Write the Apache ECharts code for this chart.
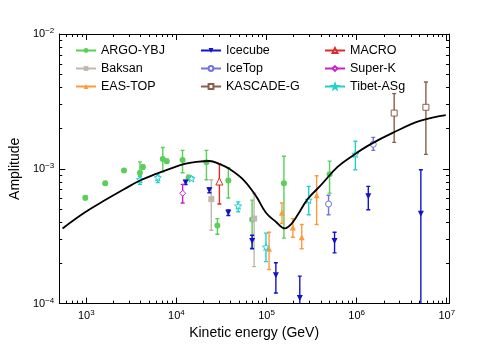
<!DOCTYPE html>
<html>
<head>
<meta charset="utf-8">
<script src="https://cdn.jsdelivr.net/npm/echarts@6/dist/echarts.min.js"></script>
<style>
  html, body { margin: 0; padding: 0; background: #fff; }
  #main { width: 478px; height: 345px; }
</style>
</head>
<body>
<div id="main"></div>
<script>
// ---- data (energy in GeV, amplitude) ----
var argoE = [975, 1620, 2620, 3940, 4250, 7060, 7820, 11700, 13650, 21550, 28500, 37700, 69200, 156000, 501000];
var argoA = [6.1e-4, 7.8e-4, 9.7e-4, 9.35e-4, 1.03e-3, 1.18e-3, 1.14e-3, 1.16e-3, 8.6e-4, 1.12e-3, 3.8e-4, 8.2e-4, 4.2e-4, 7.8e-4, 9.1e-4];
var argoHi = [6.3e-4, 8.05e-4, 1.0e-3, 1.125e-3, 1.07e-3, 1.44e-3, 1.18e-3, 1.37e-3, 8.95e-4, 1.37e-3, 4.27e-4, 1.02e-3, 5.86e-4, 1.24e-3, 1.14e-3];
var argoLo = [5.9e-4, 7.55e-4, 9.4e-4, 8.9e-4, 9.9e-4, 9.5e-4, 1.1e-3, 9.35e-4, 8.25e-4, 8.3e-4, 3.27e-4, 6.07e-4, 2.59e-4, 3.06e-4, 6.6e-4];

var baksanE = [24400, 72800];
var baksanA = [5.96e-4, 4.27e-4];
var baksanHi = [8.3e-4, 6.6e-4];
var baksanLo = [3.5e-4, 1.88e-4];

var easE = [106700, 148300, 196000, 246000, 360000];
var easA = [2.55e-4, 4.72e-4, 3.67e-4, 3.11e-4, 6.37e-4];
var easHi = [3.38e-4, 5.57e-4, 4.27e-4, 3.86e-4, 8.89e-4];
var easLo = [1.79e-4, 3.93e-4, 3.11e-4, 2.55e-4, 3.86e-4];

var icecubeE = [12650, 23200, 37700, 69200, 127000, 234000, 569000, 1347000, 5160000];
var icecubeA = [7.92e-4, 6.93e-4, 4.72e-4, 2.91e-4, 1.62e-4, 1.10e-4, 2.91e-4, 6.27e-4, 4.64e-4];
var icecubeHi = [8.2e-4, 7.2e-4, 4.95e-4, 3.21e-4, 2.01e-4, 1.6e-4, 3.38e-4, 7.41e-4, 9.84e-4];
var icecubeLo = [7.65e-4, 6.65e-4, 4.5e-4, 2.55e-4, 1.2e-4, 8e-5, 2.38e-4, 4.97e-4, 5e-5];

var icetopE = [488000, 1530000];
var icetopA = [5.48e-4, 1.52e-3];
var icetopHi = [6.37e-4, 1.71e-3];
var icetopLo = [4.56e-4, 1.37e-3];

var kascadeE = [2610000, 5870000];
var kascadeA = [2.59e-3, 2.86e-3];
var kascadeHi = [3.61e-3, 4.41e-3];
var kascadeLo = [1.57e-3, 1.28e-3];

var macroE = [30000];
var macroA = [8.05e-4];
var macroHi = [1.087e-3];
var macroLo = [5.48e-4];

var superkE = [11730];
var superkA = [6.59e-4];
var superkHi = [7.66e-4];
var superkLo = [5.57e-4];

var tibetE = [3940, 6210, 14720, 48500, 98600, 294000, 968000];
var tibetA = [8.32e-4, 8.61e-4, 8.47e-4, 5.31e-4, 2.63e-4, 5.86e-4, 1.285e-3];
var tibetHi = [8.75e-4, 8.99e-4, 8.75e-4, 5.68e-4, 3.33e-4, 7.41e-4, 1.60e-3];
var tibetLo = [7.66e-4, 7.92e-4, 8.2e-4, 4.80e-4, 2.05e-4, 4.56e-4, 9.84e-4];

// model curve
var curveE = [545, 951, 1620, 2620, 3940, 6050, 8430, 12330, 16710, 23230, 29990, 38640, 55080, 76560, 98600, 127000, 160000, 186000, 222000, 286000, 399000, 614000, 920000, 1419000, 2541000, 5035000, 9750000];
var curveA = [3.61e-4, 4.72e-4, 5.86e-4, 7.05e-4, 8.18e-4, 9.2e-4, 1.0e-3, 1.086e-3, 1.125e-3, 1.143e-3, 1.086e-3, 1.0e-3, 8.32e-4, 6.27e-4, 4.72e-4, 4.05e-4, 3.61e-4, 3.86e-4, 4.56e-4, 5.96e-4, 7.53e-4, 1.033e-3, 1.262e-3, 1.517e-3, 1.854e-3, 2.265e-3, 2.506e-3];

// axis ticks (log10 units)
var xMajor = [3, 4, 5, 6, 7];
var xTickLabels = ['3', '4', '5', '6', '7'];
var yMajor = [-4, -3, -2];
var yTickLabels = ['\u22124', '\u22123', '\u22122'];

var xMin = 2.70, xMax = 7.025, yMin = -4, yMax = -2;

var xMinor = [];
for (var n = 2; n <= 7; n++) {
  for (var k = 2; k <= 9; k++) {
    var v = n + Math.log10(k);
    if (v > xMin && v < xMax) xMinor.push(v);
  }
}
var yMinor = [];
for (var m = -4; m < -2; m++) {
  for (var j = 2; j <= 9; j++) yMinor.push(m + Math.log10(j));
}

var FONT = '"Liberation Sans", Arial, Helvetica, sans-serif';

var experiments = [
  { name: 'ARGO-YBJ', color: '#5acf5a', symbol: 'circle', size: 6, open: false, E: argoE, A: argoA, hi: argoHi, lo: argoLo },
  { name: 'Baksan', color: '#c0b8ae', symbol: 'rect', size: 6, open: false, E: baksanE, A: baksanA, hi: baksanHi, lo: baksanLo },
  { name: 'EAS-TOP', color: '#ff9a3c', symbol: 'triangle', size: 6, open: false, E: easE, A: easA, hi: easHi, lo: easLo },
  { name: 'Icecube', color: '#1212cc', symbol: 'triangle', rotate: 180, size: 6, open: false, E: icecubeE, A: icecubeA, hi: icecubeHi, lo: icecubeLo },
  { name: 'IceTop', color: '#7373e0', symbol: 'circle', size: 6, open: true, E: icetopE, A: icetopA, hi: icetopHi, lo: icetopLo },
  { name: 'KASCADE-G', color: '#8b5e4e', symbol: 'rect', size: 6, open: true, E: kascadeE, A: kascadeA, hi: kascadeHi, lo: kascadeLo },
  { name: 'MACRO', color: '#dd2a2a', symbol: 'triangle', size: 7, open: true, E: macroE, A: macroA, hi: macroHi, lo: macroLo },
  { name: 'Super-K', color: '#cc1fcc', symbol: 'diamond', size: 6, open: true, E: superkE, A: superkA, hi: superkHi, lo: superkLo },
  { name: 'Tibet-ASg', color: '#20cfcf', symbol: 'path://M0,-10L2.35,-3.24L9.51,-3.09L3.8,1.24L5.88,8.09L0,4L-5.88,8.09L-3.8,1.24L-9.51,-3.09L-2.35,-3.24Z', size: 7, open: true, E: tibetE, A: tibetA, hi: tibetHi, lo: tibetLo }
];

function lg(v) { return Math.log10(v); }

var series = [];
// markers first, so the legend takes its icon (line + symbol) from them
experiments.forEach(function (ex) {
  series.push({
    name: ex.name,
    type: 'line',
    z: 4,
    symbol: ex.symbol,
    symbolSize: ex.size,
    symbolRotate: ex.rotate || 0,
    showAllSymbol: true,
    silent: true,
    lineStyle: { color: ex.color, opacity: 0, width: 2 },
    itemStyle: ex.open ? { color: '#fff', borderColor: ex.color, borderWidth: 1 } : { color: ex.color, borderWidth: 0 },
    data: ex.E.map(function (e, i) { return [lg(e), lg(ex.A[i])]; })
  });
});
// error bars
experiments.forEach(function (ex) {
  var bars = ex.E.map(function (e, i) { return [lg(e), lg(ex.lo[i]), lg(ex.hi[i])]; });
  series.push({
    name: ex.name,
    type: 'custom',
    clip: true,
    z: 2,
    itemStyle: { color: ex.color },
    encode: { x: 0, y: [1, 2] },
    data: bars,
    renderItem: (function (color) {
      return function (params, api) {
        var x = api.value(0);
        var p1 = api.coord([x, api.value(2)]);
        var p2 = api.coord([x, api.value(1)]);
        var st = { stroke: color, lineWidth: 1.4 };
        return {
          type: 'group',
          children: [
            { type: 'line', shape: { x1: p1[0], y1: p1[1], x2: p2[0], y2: p2[1] }, style: st },
            { type: 'line', shape: { x1: p1[0] - 2, y1: p1[1], x2: p1[0] + 2, y2: p1[1] }, style: st },
            { type: 'line', shape: { x1: p2[0] - 2, y1: p2[1], x2: p2[0] + 2, y2: p2[1] }, style: st }
          ]
        };
      };
    })(ex.color)
  });
});

series.push({
  name: 'model',
  type: 'line',
  z: 5,
  smooth: 0.4,
  symbol: 'none',
  silent: true,
  lineStyle: { color: '#000', width: 1.8 },
  data: curveE.map(function (e, i) { return [lg(e), lg(curveA[i])]; })
});

var rich = {
  b: { fontSize: 11, fontFamily: FONT, color: '#000', lineHeight: 14 },
  s: { fontSize: 8, fontFamily: FONT, color: '#000', lineHeight: 8, verticalAlign: 'top' }
};

function majorAxis(pos, ticks, labels, min, max, withLabel) {
  return {
    type: 'value', position: pos, min: min, max: max,
    axisLine: { show: true, onZero: false, lineStyle: { color: '#000', width: 1 } },
    axisTick: { show: true, inside: true, length: 6, customValues: ticks, lineStyle: { color: '#000', width: 1 } },
    axisLabel: {
      show: withLabel, customValues: ticks, margin: 5, rich: rich,
      formatter: function (v) {
        var i = ticks.indexOf(v);
        return '{b|10}{s|' + (i >= 0 ? labels[i] : '') + '}';
      }
    },
    splitLine: { show: false }
  };
}
function minorAxis(pos, ticks, min, max) {
  return {
    type: 'value', position: pos, min: min, max: max,
    axisLine: { show: false },
    axisTick: { show: true, inside: true, length: 3, customValues: ticks, lineStyle: { color: '#000', width: 1 } },
    axisLabel: { show: false },
    splitLine: { show: false }
  };
}

var xBottom = majorAxis('bottom', xMajor, xTickLabels, xMin, xMax, true);
xBottom.name = 'Kinetic energy (GeV)';
xBottom.nameLocation = 'middle';
xBottom.nameGap = 14;
xBottom.nameTextStyle = { fontSize: 14, fontFamily: FONT, color: '#000' };

var yLeft = majorAxis('left', yMajor, yTickLabels, yMin, yMax, true);
yLeft.name = 'Amplitude';
yLeft.nameLocation = 'middle';
yLeft.nameGap = 32;
yLeft.nameTextStyle = { fontSize: 14, fontFamily: FONT, color: '#000' };

function legendCol(left, names) {
  return {
    orient: 'vertical', left: left, top: 43, padding: 0,
    itemWidth: 20, itemHeight: 6, itemGap: 3,
    selectedMode: false,
    lineStyle: { opacity: 1, width: 2 },
    textStyle: { fontSize: 12.5, fontFamily: FONT, color: '#000', lineHeight: 15 },
    data: names
  };
}

var myChart = echarts.init(document.getElementById('main'), null, { renderer: 'canvas' });
myChart.setOption({
  animation: false,
  backgroundColor: '#fff',
  grid: { left: 57, right: 29, top: 34, bottom: 35 },
  legend: [
    legendCol(75, ['ARGO-YBJ', 'Baksan', 'EAS-TOP']),
    legendCol(200, ['Icecube', 'IceTop', 'KASCADE-G']),
    legendCol(324, ['MACRO', 'Super-K', 'Tibet-ASg'])
  ],
  xAxis: [
    xBottom,
    minorAxis('bottom', xMinor, xMin, xMax),
    majorAxis('top', xMajor, xTickLabels, xMin, xMax, false),
    minorAxis('top', xMinor, xMin, xMax)
  ],
  yAxis: [
    yLeft,
    minorAxis('left', yMinor, yMin, yMax),
    majorAxis('right', yMajor, yTickLabels, yMin, yMax, false),
    minorAxis('right', yMinor, yMin, yMax)
  ],
  series: series
});
</script>
</body>
</html>
